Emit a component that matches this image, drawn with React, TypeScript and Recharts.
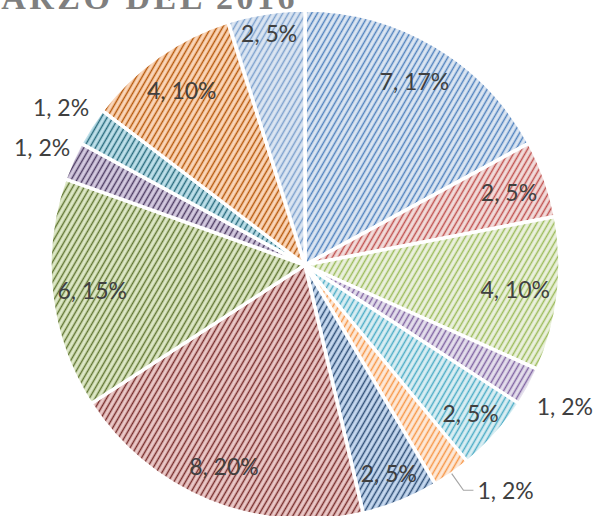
import React from 'react';
import { PieChart, Pie, Cell } from 'recharts';

// datos del gráfico (orden horario desde las 12)
const categories = ['A', 'B', 'C', 'D', 'E', 'F', 'G', 'H', 'I', 'J', 'K', 'L', 'M'];
const values = [7, 2, 4, 1, 2, 1, 2, 8, 6, 1, 1, 4, 2];

// colores del rayado: línea y fondo
const lineColors = ['#4F81BD', '#C0504D', '#9BBB59', '#8064A2', '#4BACC6', '#F79646', '#2C4D75', '#772C2A', '#5F7530', '#4D3B62', '#276A7C', '#B65708', '#7BA0CD'];
const fillColors = ['#DCE6F2', '#F2DCDB', '#EBF1DE', '#E4DFEC', '#DAEEF3', '#FDE9D9', '#C6D9F0', '#EBC9C8', '#DDE8C6', '#D4CAE0', '#BEE0EA', '#FBD7BA', '#DCE6F2'];

// distancia de la etiqueta respecto al radio
const labelFactor = [0.84, 0.85, 0.83, 1.16, 0.87, 1.08, 0.88, 0.85, 0.84, 1.13, 1.14, 0.84, 0.92];
const leaderIndex = 5;

const data = categories.map((name, i) => ({ name, value: values[i] }));
const RADIAN = Math.PI / 180;

const renderLabel = (props: any) => {
  const { cx, cy, midAngle, outerRadius, percent, value, index } = props;
  const r = outerRadius * labelFactor[index];
  const cos = Math.cos(-midAngle * RADIAN);
  const sin = Math.sin(-midAngle * RADIAN);
  const text = `${value}, ${Math.round(percent * 100)}%`;
  const style = { fontFamily: 'Lato, sans-serif', fontSize: 23, fill: '#404040' };
  if (index === leaderIndex) {
    const sx = cx + outerRadius * cos;
    const sy = cy + outerRadius * sin;
    const mx = cx + r * cos;
    const my = cy + r * sin;
    const ex = mx + 10;
    return (
      <g>
        <polyline points={`${sx},${sy} ${mx},${my} ${ex},${my}`} fill="none" stroke="#A6A6A6" strokeWidth={1.2} />
        <text x={ex + 4} y={my} textAnchor="start" dominantBaseline="central" style={style}>{text}</text>
      </g>
    );
  }
  return (
    <text x={cx + r * cos} y={cy + r * sin} textAnchor="middle" dominantBaseline="central" style={style}>
      {text}
    </text>
  );
};

const App: React.FC = () => {
  return (
    <div style={{ position: 'absolute', left: 0, top: 0, width: 593, height: 516, background: '#fff', overflow: 'hidden' }}>
      <svg width={593} height={30} style={{ position: 'absolute', left: 0, top: 0 }}>
        <text x={298} y={8.5} textAnchor="end" style={{ fontFamily: '"Liberation Serif", serif', fontWeight: 'bold', fontSize: 34, fill: '#7F7F7F', letterSpacing: 3.5 }}>
          MARZO DEL 2016
        </text>
      </svg>
      <PieChart width={593} height={516} margin={{ top: 0, right: 0, bottom: 0, left: 0 }} style={{ position: 'absolute', left: 0, top: 0 }}>
        <defs>
          {lineColors.map((c, i) => (
            <pattern key={i} id={`hatch-${i}`} width={5} height={5} patternUnits="userSpaceOnUse" patternTransform="rotate(30)">
              <rect width={5} height={5} fill={fillColors[i]} />
              <line x1={1.5} y1={0} x2={1.5} y2={5} stroke={c} strokeWidth={1.5} />
            </pattern>
          ))}
        </defs>
        <Pie
          data={data}
          dataKey="value"
          nameKey="name"
          cx={305}
          cy={265}
          outerRadius={255}
          startAngle={90}
          endAngle={-270}
          label={renderLabel}
          labelLine={false}
          isAnimationActive={false}
        >
          {data.map((_, i) => (
            <Cell key={i} fill={`url(#hatch-${i})`} stroke="#fff" strokeWidth={3.5} />
          ))}
        </Pie>
      </PieChart>
    </div>
  );
};

export default App;
